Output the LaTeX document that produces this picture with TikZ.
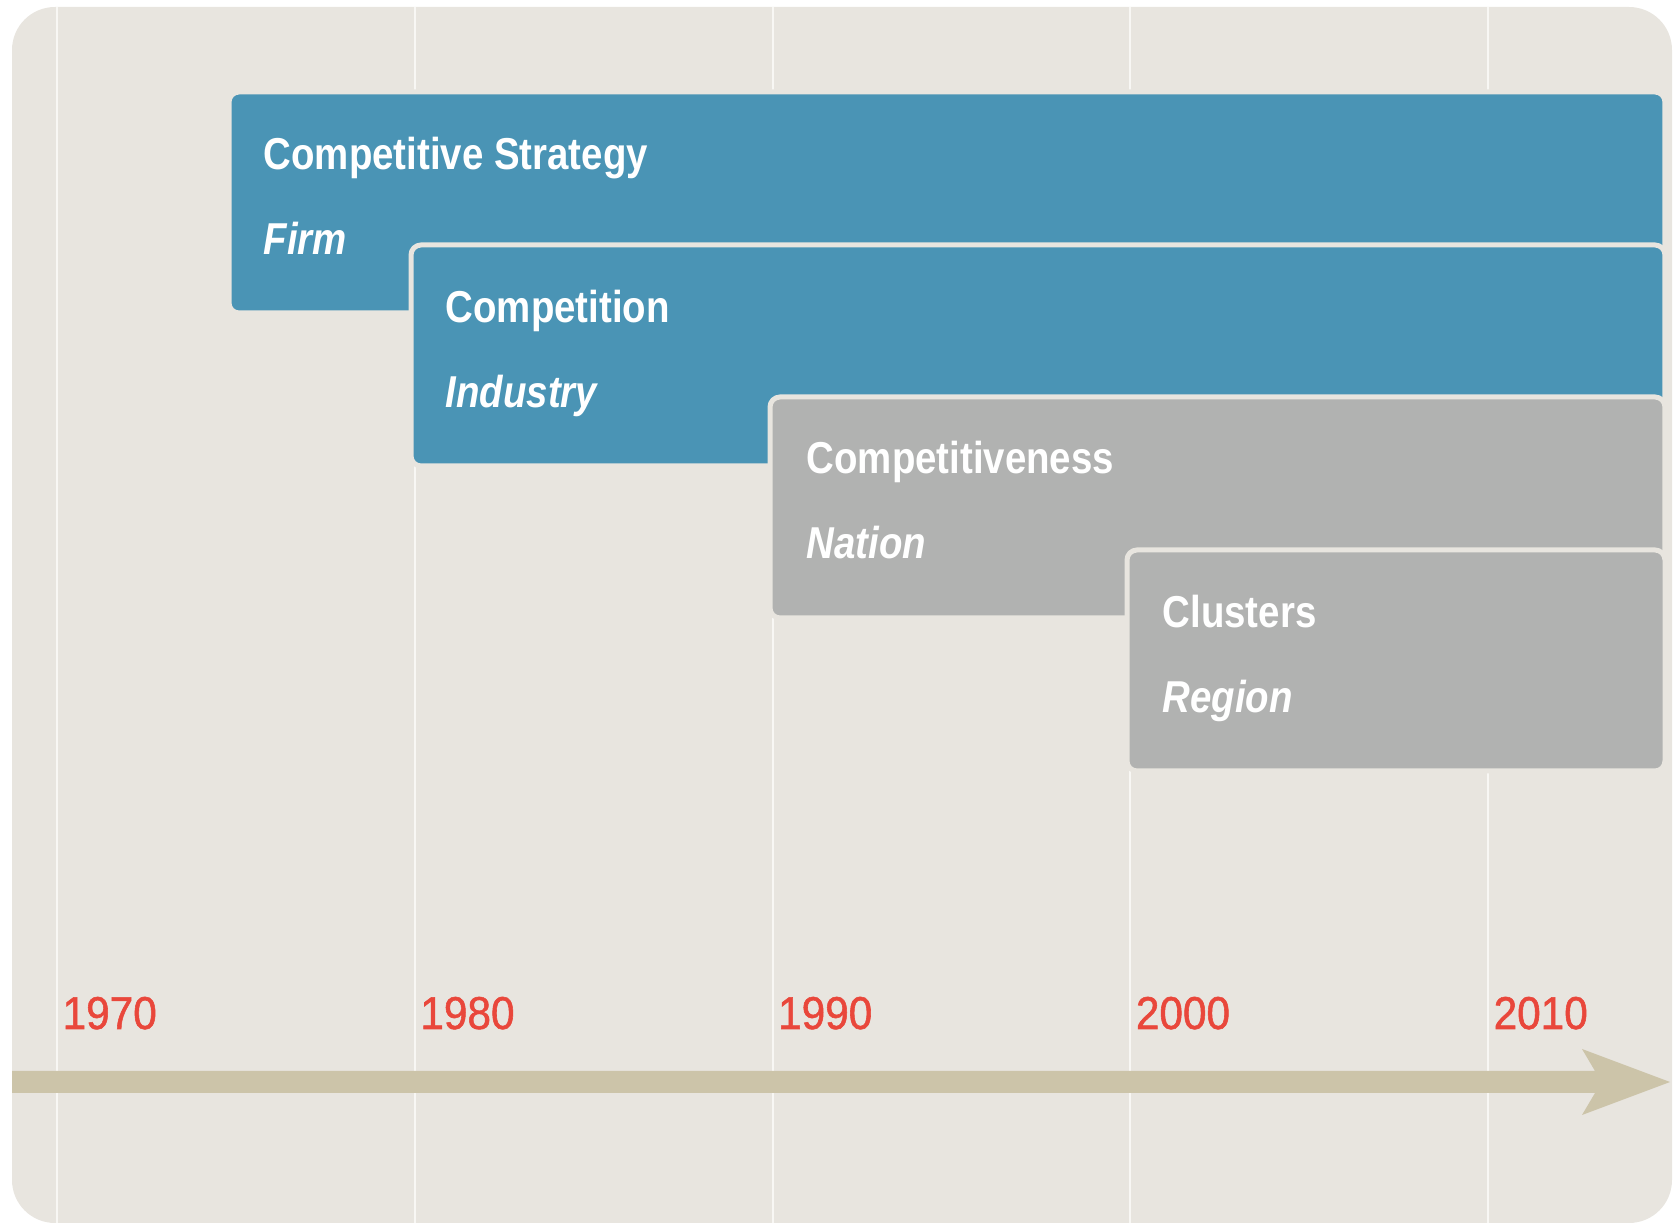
\documentclass[tikz,border=0pt]{standalone}
\usepackage{fontspec}
\usetikzlibrary{calc}
\newfontfamily\headfont{Liberation Sans}[FakeStretch=0.86]
\newfontfamily\yearfont{Liberation Sans}[FakeStretch=0.92,FakeBold=1.2]

\definecolor{bgc}{HTML}{E8E5DF}
\definecolor{bluebox}{HTML}{4A94B5}
\definecolor{graybox}{HTML}{B1B2B1}
\definecolor{yearred}{HTML}{E9473B}
\definecolor{axistan}{HTML}{CCC4A9}
\definecolor{gridwhite}{HTML}{F8F7F4}

\begin{document}
\begin{tikzpicture}[x=0.3pt,y=-0.3pt,
  gridline/.style={draw=gridwhite, line width=0.6pt},
  era/.style={draw=bgc, line width=1.5pt, rounded corners=3pt,
    anchor=north west, inner sep=0pt, outer sep=0pt, minimum height=66.3pt},
  blueera/.style={era, fill=bluebox},
  grayera/.style={era, fill=graybox},
  title/.style={anchor=base west, inner sep=0pt, text=white,
    font=\headfont\fontsize{13.4pt}{15pt}\selectfont\bfseries},
  scope/.style={anchor=base west, inner sep=0pt, text=white,
    font=\headfont\fontsize{13.4pt}{15pt}\selectfont\bfseries\itshape},
  year/.style={anchor=base west, inner sep=0pt, text=yearred,
    font=\yearfont\fontsize{13.8pt}{15pt}\selectfont}]

\useasboundingbox (0,0) rectangle (1677,1224);

% panel
\fill[bgc, rounded corners=12.9pt] (12,7) rectangle (1672,1223);

% decade grid lines
\foreach \x/\n in {57/70, 414.75/80, 772.5/90, 1130.25/00, 1488/10} {
  \coordinate (top\n) at (\x,7);
  \coordinate (bot\n) at (\x,1223);
  \draw[gridline] (top\n) -- (bot\n);
}

% overlapping eras
\node[blueera, minimum width=430.8pt] (b1) at (229,92) {};
\node[blueera, minimum width=376.2pt] (b2) at (411,245) {};
\node[grayera, minimum width=268.5pt] (b3) at (770,397) {};
\node[grayera, minimum width=161.4pt] (b4) at (1127,550) {};

\node[title] (t1) at ($(b1.north west)+(34,78)$) {Competitive Strategy};
\node[scope] (s1) at ($(t1.base west)+(0,85)$) {Firm};
\node[title] (t2) at ($(b2.north west)+(34,78)$) {Competition};
\node[scope] (s2) at ($(t2.base west)+(0,85)$) {Industry};
\node[title] (t3) at ($(b3.north west)+(36,77)$) {Competitiveness};
\node[scope] (s3) at ($(t3.base west)+(0,85)$) {Nation};
\node[title] (t4) at ($(b4.north west)+(35,78)$) {Clusters};
\node[scope] (s4) at ($(t4.base west)+(0,85)$) {Region};

% time axis
\fill[axistan] (12,1071) -- (1595,1071) -- (1582,1049) -- (1670,1082)
  -- (1582,1115) -- (1595,1093) -- (12,1093) -- cycle;

% decade labels
\node[year] (y70) at ($(top70)+(5,1022)$) {1970};
\node[year] (y80) at ($(top80)+(5,1022)$) {1980};
\node[year] (y90) at ($(top90)+(5,1022)$) {1990};
\node[year] (y00) at ($(top00)+(5,1022)$) {2000};
\node[year] (y10) at ($(top10)+(5,1022)$) {2010};
\end{tikzpicture}
\end{document}
